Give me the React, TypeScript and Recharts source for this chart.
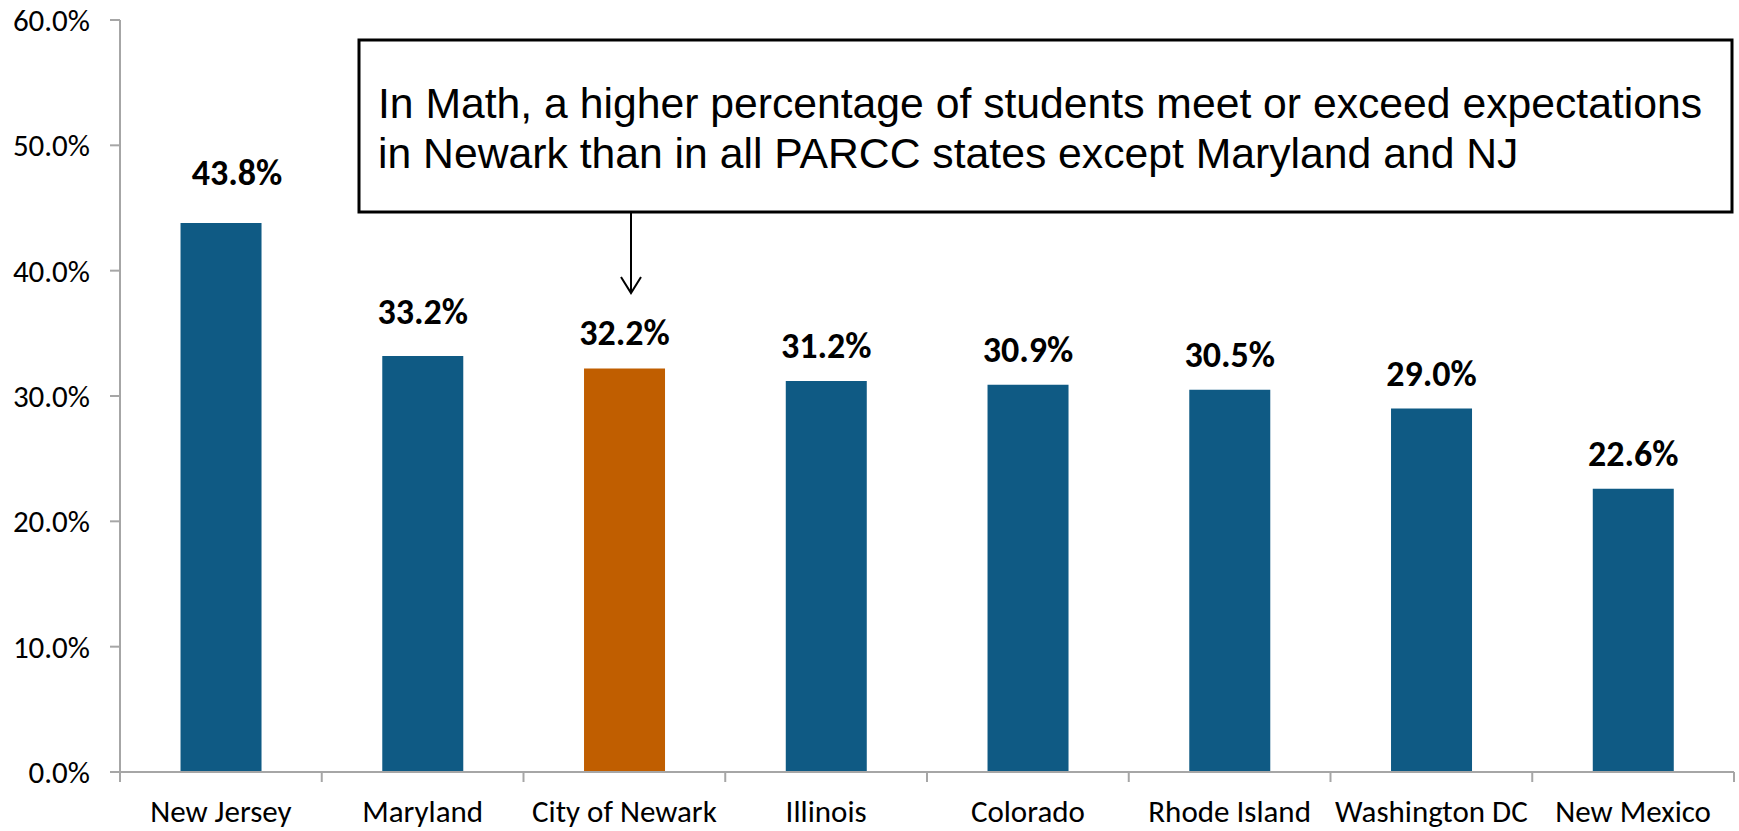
import { Bar, BarChart, Cell, LabelList, XAxis, YAxis } from 'recharts';

const categories = [
  'New Jersey',
  'Maryland',
  'City of Newark',
  'Illinois',
  'Colorado',
  'Rhode Island',
  'Washington DC',
  'New Mexico'
];
const values = [0.438, 0.332, 0.322, 0.312, 0.309, 0.305, 0.29, 0.226];
const highlight = 'City of Newark';
const yTicks = [0, 0.1, 0.2, 0.3, 0.4, 0.5, 0.6];
const calloutLines = [
  'In Math, a higher percentage of students meet or exceed expectations',
  'in Newark than in all PARCC states except Maryland and NJ'
];

const BLUE = '#0F5A84';
const ORANGE = '#C05E00';
const AXIS = '#A6A6A6';
const FONT = 'Calibri, Carlito, Lato, sans-serif';

const W = 1739;
const H = 831;
const BAND = (1734 - 120) / categories.length;

// excel had a couple of labels dragged by hand
const labelNudge: Record<number, { dx: number; dy: number }> = {
  0: { dx: 16, dy: -15 },
  1: { dx: 0, dy: -9 }
};

const data = categories.map((name, i) => ({ name, value: values[i] }));

const pct = (v: number) => `${(v * 100).toFixed(1)}%`;

const CategoryTick = (props: any) => {
  const { x, y, payload, index } = props;
  const last = index === categories.length - 1;
  return (
    <g>
      <line x1={x - BAND / 2} x2={x - BAND / 2} y1={y} y2={y + 10} stroke={AXIS} strokeWidth={2} />
      {last && (
        <line x1={x + BAND / 2} x2={x + BAND / 2} y1={y} y2={y + 10} stroke={AXIS} strokeWidth={2} />
      )}
      <text x={x} y={y + 50} textAnchor="middle" fill="#000" fontSize={31} fontFamily={FONT}>
        {payload.value}
      </text>
    </g>
  );
};

const ValueLabel = (props: any) => {
  const { x, y, width, value, index } = props;
  const n = labelNudge[index] || { dx: 0, dy: 0 };
  return (
    <text
      x={x + width / 2 + n.dx}
      y={y - 23 + n.dy}
      textAnchor="middle"
      fill="#000"
      fontSize={36}
      fontWeight="bold"
      fontFamily={FONT}
    >
      {pct(value)}
    </text>
  );
};

export default function App() {
  return (
    <div style={{ position: 'fixed', left: 0, top: 0, width: W, height: H, background: '#fff' }}>
      <BarChart
        width={W}
        height={H}
        data={data}
        margin={{ top: 20, right: 5, left: 0, bottom: 0 }}
        barCategoryGap="30%"
      >
        <YAxis
          domain={[0, 0.6]}
          ticks={yTicks}
          tickFormatter={pct}
          width={120}
          axisLine={{ stroke: AXIS, strokeWidth: 2 }}
          tickLine={{ stroke: AXIS, strokeWidth: 2 }}
          tickSize={10}
          tickMargin={20}
          tick={{ fill: '#000', fontSize: 31, fontFamily: FONT }}
        />
        <XAxis
          dataKey="name"
          height={59}
          axisLine={{ stroke: AXIS, strokeWidth: 2 }}
          tickLine={false}
          tickSize={0}
          tickMargin={0}
          interval={0}
          tick={<CategoryTick />}
        />
        <Bar dataKey="value" isAnimationActive={false}>
          {data.map((d, i) => (
            <Cell key={`cell-${i}`} fill={d.name === highlight ? ORANGE : BLUE} />
          ))}
          <LabelList dataKey="value" content={<ValueLabel />} />
        </Bar>
      </BarChart>
      <svg
        width={W}
        height={H}
        style={{ position: 'absolute', left: 0, top: 0, pointerEvents: 'none' }}
      >
        <rect x={359} y={40} width={1373} height={172} fill="#fff" stroke="#000" strokeWidth={3} />
        {calloutLines.map((line, i) => (
          <text
            key={i}
            x={378}
            y={118 + i * 50}
            fontSize={42.7}
            fontFamily="Arial, 'Liberation Sans', sans-serif"
            fill="#000"
          >
            {line}
          </text>
        ))}
        <line x1={631} x2={631} y1={212} y2={293} stroke="#000" strokeWidth={2} />
        <polyline points="621,277 631,293 641,277" fill="none" stroke="#000" strokeWidth={2} />
      </svg>
    </div>
  );
}
